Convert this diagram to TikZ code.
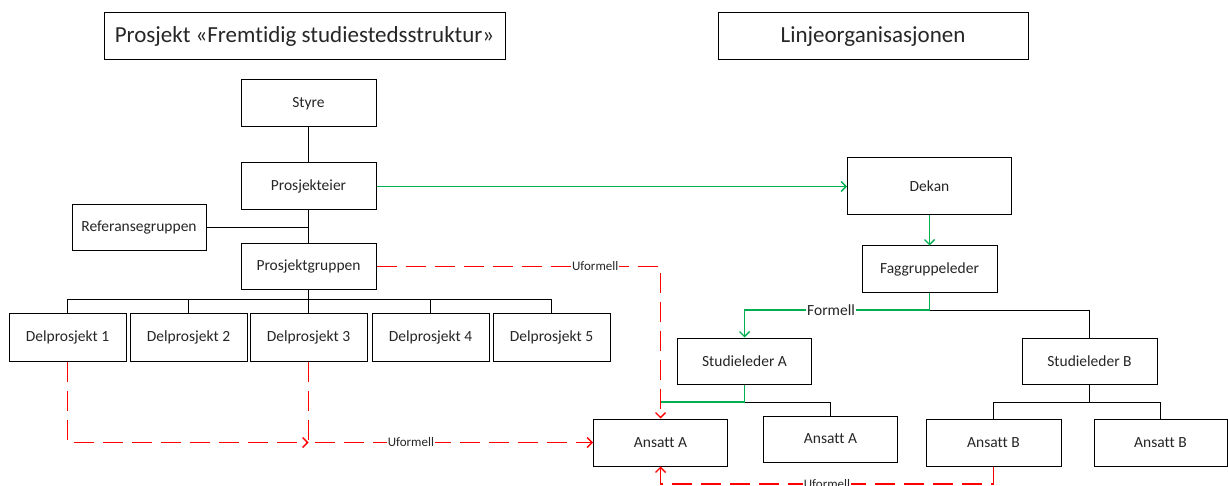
\documentclass[tikz,border=0pt]{standalone}
\usepackage{fontspec}
\setmainfont{Carlito}[Ligatures=NoCommon]
\usetikzlibrary{arrows.meta}
\definecolor{okgreen}{RGB}{0,176,80}
\definecolor{inkred}{RGB}{255,0,0}
\begin{document}
\begin{tikzpicture}[x=1pt,y=-1pt,
  box/.style={draw=black, line width=1pt, fill=white, inner sep=0pt,
    font=\fontsize{15.5}{18}\selectfont, text=black!85},
  titlebox/.style={box, font=\fontsize{23}{26}\selectfont},
  link/.style={color=black, line width=1pt},
  formal/.style={color=okgreen, line width=1.4pt},
  informal/.style={color=inkred, line width=1.4pt, dash pattern=on 20pt off 9pt},
  tip/.style={-{Straight Barb[length=5pt,width=10pt]}},
  lbl/.style={fill=white, inner sep=1pt, text=black!85},
  smalllbl/.style={lbl, font=\fontsize{13}{15}\selectfont},
  biglbl/.style={lbl, font=\fontsize{15.5}{18}\selectfont}]
\useasboundingbox (0,0) rectangle (1228,486);
\clip (0,0) rectangle (1228,486);

% headings
\node[titlebox, minimum width=401pt, minimum height=47pt] (tproj) at (304.5,36.5) {Prosjekt «Fremtidig studiestedsstruktur»};
\node[titlebox, minimum width=310pt, minimum height=47pt] (tline) at (873,36.5) {Linjeorganisasjonen};

% project side
\node[box, minimum width=135pt, minimum height=47pt] (styre) at (308.5,103.5) {Styre};
\node[box, minimum width=135pt, minimum height=47pt] (peier) at (308.5,186.5) {Prosjekteier};
\node[box, minimum width=134pt, minimum height=46pt] (ref) at (139,227.5) {Referansegruppen};
\node[box, minimum width=135pt, minimum height=46pt] (pgr) at (308.5,266.5) {Prosjektgruppen};
\node[box, minimum width=117pt, minimum height=48pt] (d1) at (67.5,337.5) {Delprosjekt 1};
\node[box, minimum width=117pt, minimum height=48pt] (d2) at (188.5,337.5) {Delprosjekt 2};
\node[box, minimum width=117pt, minimum height=48pt] (d3) at (308.5,337.5) {Delprosjekt 3};
\node[box, minimum width=117pt, minimum height=48pt] (d4) at (430.5,337.5) {Delprosjekt 4};
\node[box, minimum width=117pt, minimum height=48pt] (d5) at (551.5,337.5) {Delprosjekt 5};

% line organisation
\node[box, minimum width=164pt, minimum height=57pt] (dekan) at (929.5,186.5) {Dekan};
\node[box, minimum width=135pt, minimum height=46pt] (fag) at (929.5,269) {Faggruppeleder};
\node[box, minimum width=134pt, minimum height=46pt] (sa) at (744.5,361) {Studieleder A};
\node[box, minimum width=135pt, minimum height=46pt] (sb) at (1089.5,361) {Studieleder B};
\node[box, minimum width=134pt, minimum height=47pt] (a1) at (660.5,442.5) {Ansatt A};
\node[box, minimum width=134pt, minimum height=46pt] (a2) at (830.5,439) {Ansatt A};
\node[box, minimum width=135pt, minimum height=47pt] (b1) at (993.5,442.5) {Ansatt B};
\node[box, minimum width=133pt, minimum height=47pt] (b2) at (1160.5,442.5) {Ansatt B};

% project hierarchy
\draw[link] (styre) -- (peier);
\draw[link] (peier) -- (pgr);
\draw[link] (ref.east) -- (ref.east -| peier.south);
\draw[link] (pgr.south) -- ++(0,9) -| (d1.north);
\draw[link] (pgr.south) -- ++(0,9) -| (d2.north);
\draw[link] (pgr.south) -- (d3.north);
\draw[link] (pgr.south) -- ++(0,9) -| (d4.north);
\draw[link] (pgr.south) -- ++(0,9) -| (d5.north);

% line hierarchy
\draw[link] (fag.south) ++(0,17.5) -| (sb.north);
\path (sa.south) ++(0,17.5) coordinate (busA);
\draw[link] (busA) -| (a2.north);
\draw[link] (sb.south) -- ++(0,17.5) -| (b1.north);
\draw[link] (sb.south) ++(0,17.5) -| (b2.north);

% formal lines
\draw[formal, tip] (peier.east) -- (dekan.west);
\draw[formal, tip] (dekan) -- (fag);
\draw[formal, tip] (fag.south) -- ++(0,17.5) -| (sa.north);
\draw[formal] (sa.south) -- (busA) -- (busA -| a1.north);

% informal lines
\coordinate (j3) at (d3.south |- a1.west);
\draw[informal, tip] (pgr.east) -| (a1.north);
\draw[informal, tip] (d1.south) |- (j3);
\draw[informal, tip] (d3.south) |- (a1.west);
\draw[informal, tip] (b1.south) -- ++(0,17.5) -| (a1.south);

% labels set on top of their lines
\path (fag.south) ++(0,17.5) -| node[pos=0.266, biglbl] {Formell} (sa.north);
\path (pgr.east) -| node[pos=0.385, smalllbl] {Uformell} (a1.north);
\path (d3.south) |- node[pos=0.68, smalllbl] {Uformell} (a1.west);
\path (b1.south) ++(0,17.5) -| node[pos=0.25, smalllbl] {Uformell} (a1.south);
\end{tikzpicture}
\end{document}
